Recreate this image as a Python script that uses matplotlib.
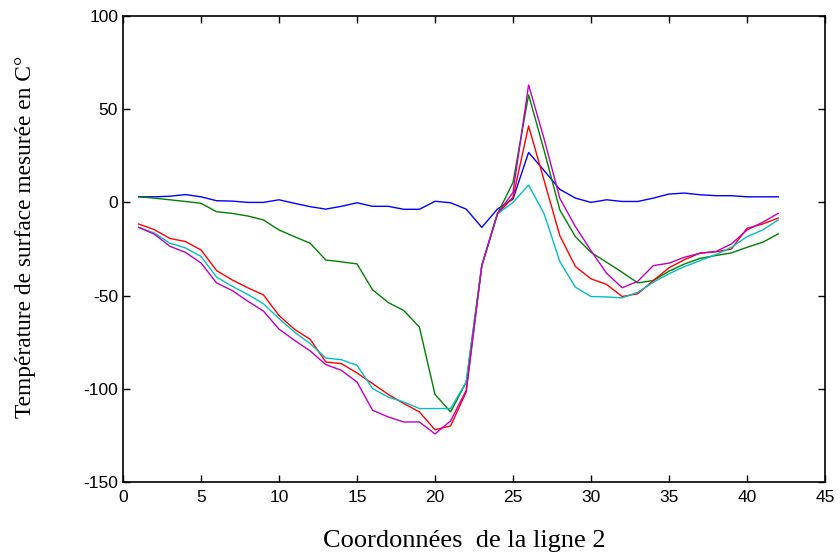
import matplotlib
matplotlib.use("Agg")
import matplotlib.pyplot as plt

plt.rcParams['axes.unicode_minus'] = False

x = list(range(1, 43))

blue = [3, 3, 3.3, 4.2, 3, 0.9, 0.7, 0, 0, 1.4,
        -0.5, -2.3, -3.6, -2.1, -0.2, -2.1, -2.1, -3.7, -3.7, 0.6,
        -0.2, -3.6, -13.4, -3.6, 1.8, 26.8, 17, 7, 2.3, 0,
        1.4, 0.5, 0.5, 2.3, 4.5, 5, 4.1, 3.6, 3.6, 3, 3, 3]
green = [3, 2.3, 1.4, 0.5, -0.5, -5, -5.9, -7.3, -9.4, -14.8,
         -18.4, -21.9, -30.9, -31.9, -33, -46.9, -53.7, -58, -66.9, -103,
         -112.4, -96.4, -33.9, -6.2, 10.7, 57.7, 27.7, -4, -18.4, -26.8,
         -32.1, -37.5, -43.2, -41.9, -36.9, -33, -30, -28.5, -27.1, -24.1, -21.4, -16.9]
red = [-11.6, -14.6, -19.3, -21, -25.5, -36.6, -41.6, -45.8, -49.6, -60.7,
       -68.1, -73.5, -85.6, -86.5, -91.5, -97.2, -103, -107.9, -112.4, -122,
       -119.9, -101.7, -33.9, -6.2, 2.7, 41, 11.6, -17.8, -34.4, -41,
       -44, -50.5, -49, -41.9, -35.1, -30.7, -27.1, -26.5, -25, -13.9, -11.6, -8.4]
cyan = [-13.4, -16.4, -21.9, -24.4, -29, -40.1, -45, -49.4, -54.4, -62.3,
        -69.6, -75.8, -83.5, -84.4, -87.4, -99.9, -104.4, -107.1, -110.6, -110.6,
        -110.6, -96.4, -33.9, -6.2, 0, 9.3, -6.2, -31.7, -45.5, -50.5,
        -50.7, -51.2, -48.2, -42.8, -38.3, -34.4, -31.2, -28, -24.1, -18.4, -14.8, -9.4]
magenta = [-13.4, -17, -23.5, -26.8, -32.5, -43.2, -47.3, -53, -58.3, -68,
           -74, -79.7, -87, -90.1, -96.4, -111.5, -115.1, -117.8, -117.8, -124.2,
           -117.2, -100.8, -33.9, -6.2, 5.4, 63, 33.9, 2.2, -13, -25.9,
           -38, -45.8, -42.3, -33.9, -32.6, -29.4, -27.3, -26.4, -22.3, -14.8, -10.7, -5.9]

series = [blue, green, red, cyan, magenta]
colors = [(0, 0, 1), (0, 0.5, 0), (1, 0, 0), (0, 0.75, 0.75), (0.75, 0, 0.75)]

fig = plt.figure(figsize=(8.4, 5.58), dpi=100)
ax = fig.add_axes([123/840, 1-482/558, (825-123)/840, (482-16)/558])
for s, c in zip(series, colors):
    ax.plot(x, s, color=c, linewidth=1.0)

ax.set_xlim(0, 45)
ax.set_ylim(-150, 100)
ax.set_xticks(range(0, 46, 5))
ax.set_yticks(range(-150, 101, 50))
ax.tick_params(direction='in', top=True, right=True, length=5, width=1,
               labelsize=12.5)
ax.tick_params(axis='x', pad=6)
for lab in ax.get_xticklabels() + ax.get_yticklabels():
    lab.set_family('Liberation Sans')
for sp in ax.spines.values():
    sp.set_linewidth(1.2)

ax.set_xlabel("Coordonnées  de la ligne 2", family='Liberation Serif', fontsize=19, labelpad=18)
ax.set_ylabel("Température de surface mesurée en C°", family='Liberation Serif', fontsize=16.8, labelpad=34)
ax.xaxis.label.set_x(0.486)
ax.yaxis.label.set_y(0.526)

fig.savefig("out.png", dpi=100)
